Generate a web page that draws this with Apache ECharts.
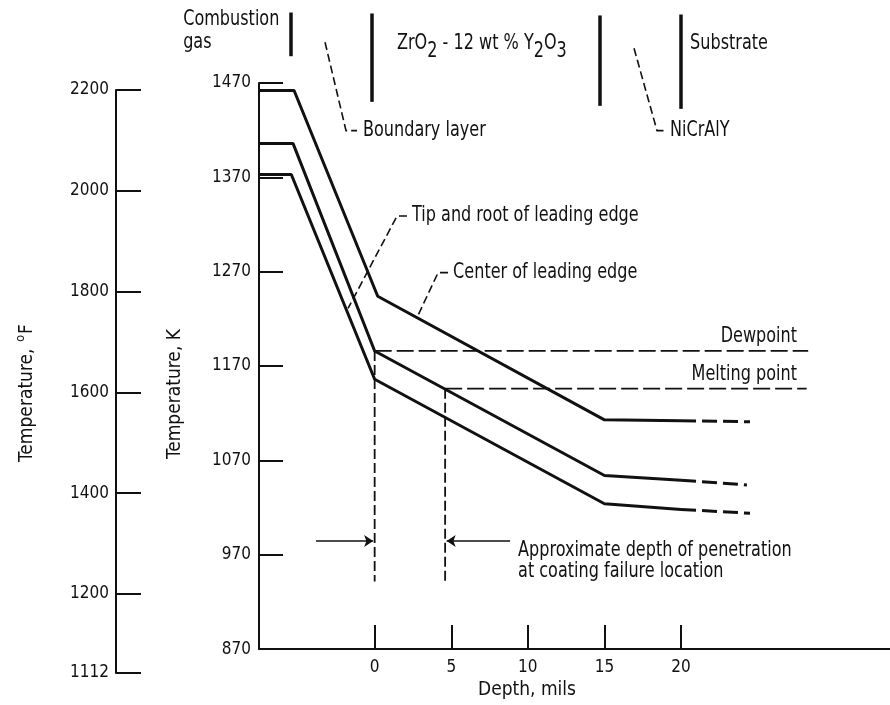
<!DOCTYPE html>
<html>
<head>
<meta charset="utf-8">
<script src="https://cdn.jsdelivr.net/npm/echarts@6/dist/echarts.min.js"></script>
<style>html,body{margin:0;padding:0;background:#fff}#c{width:890px;height:705px}</style>
</head>
<body>
<div id="c"></div>
<script>
// ---------------- data ----------------
const depthTicks = [0, 5, 10, 15, 20];                         // mils
const kelvinTicks = [870, 970, 1070, 1170, 1270, 1370, 1470];  // K
const fahrenheitTicks = [1200, 1400, 1600, 1800, 2000, 2200];  // deg F
const fahrenheitBottomLabel = 1112;                            // broken-scale bottom label

// temperature profiles (depth in mils, negative = gas side / boundary layer; temperature in K)
const centerDepth    = [-7.55, -5.26, 0.2, 15, 20];
const centerTemp     = [1462, 1462, 1244, 1113, 1112];
const centerExtDepth = [20, 24.5];
const centerExtTemp  = [1112, 1111];

const tipRootDepth    = [-7.55, -5.33, 0, 15, 20];
const tipRootTemp     = [1406, 1406, 1186, 1054, 1049];
const tipRootExtDepth = [20, 24.3];
const tipRootExtTemp  = [1049, 1044];

const lowerDepth    = [-7.55, -5.44, 0, 15, 20];
const lowerTemp     = [1373, 1373, 1156, 1024, 1018];
const lowerExtDepth = [20, 24.5];
const lowerExtTemp  = [1018, 1014];

const dewpointK = 1186;
const meltingK = 1146;
const penetrationDepths = [0, 4.6];
const layerBoundaries = [-5.45, -0.17, 14.7, 20.0];

// ---------------- chart ----------------
const FONT = '"DejaVu Sans Condensed", "Liberation Sans Narrow", sans-serif';
const INK = '#111';
const X_MIN = -7.55, X_MAX = 33.64;
const K_MIN = 870, K_MAX = 1470;
const F_MAX = 2200, F_AXIS_FLOOR = 1043;
const NARROW = 0.85;
const zip = (xs, ys) => xs.map((x, i) => [x, ys[i]]);

const chart = echarts.init(document.getElementById('c'), null, {renderer: 'canvas'});

const tickLabel = {color: INK, fontFamily: FONT, fontSize: 17};
const nameStyle = {color: INK, fontFamily: FONT, fontSize: 19};

function curve(data, dashed) {
  return {
    type: 'line', xAxisIndex: 0, yAxisIndex: 0, data: data, symbol: 'none', silent: true,
    lineStyle: {color: INK, width: 3, type: dashed ? [15, 6] : 'solid', cap: 'butt'}
  };
}
function segLine(data, width, dash) {
  return {
    type: 'line', xAxisIndex: 0, yAxisIndex: 0, data: data, symbol: 'none', silent: true, clip: false,
    lineStyle: {color: INK, width: width, type: dash || 'solid'}
  };
}

const layerBarSpan = [[1544.7, 1498.4], [1543.7, 1450], [1541.6, 1445.8], [1542.6, 1442.6]];
const dewEnd = 28.3, meltEnd = 28.2, penBottom = 941.6;

const option = {
  animation: false,
  backgroundColor: '#fff',
  grid: [
    {left: 259, top: 83, width: 631, height: 570},
    {left: 116, top: 90, width: 20, height: 583}
  ],
  xAxis: [
    {
      gridIndex: 0, type: 'value', min: X_MIN, max: X_MAX,
      axisLine: {show: true, onZero: false, lineStyle: {color: INK, width: 2}},
      axisTick: {show: true, inside: true, length: 24, customValues: depthTicks, lineStyle: {color: INK, width: 2}},
      axisLabel: Object.assign({customValues: depthTicks, margin: 10, formatter: v => String(v)}, tickLabel),
      splitLine: {show: false},
      name: 'Depth, mils', nameLocation: 'middle', nameGap: 30,
      nameTextStyle: Object.assign({padding: [0, 95, 0, 0]}, nameStyle)
    },
    {gridIndex: 1, type: 'value', show: false, min: 0, max: 1}
  ],
  yAxis: [
    {
      gridIndex: 0, type: 'value', min: K_MIN, max: K_MAX,
      axisLine: {show: true, onZero: false, lineStyle: {color: INK, width: 2}},
      axisTick: {show: true, inside: true, length: 24, customValues: kelvinTicks, lineStyle: {color: INK, width: 2}},
      axisLabel: Object.assign({customValues: kelvinTicks, margin: 8, formatter: v => String(v)}, tickLabel),
      splitLine: {show: false},
      name: 'Temperature, K', nameLocation: 'middle', nameGap: 74,
      nameTextStyle: Object.assign({padding: [0, 56, 0, 0]}, nameStyle)
    },
    {
      gridIndex: 1, type: 'value', min: F_AXIS_FLOOR, max: F_MAX,
      axisLine: {show: true, onZero: false, lineStyle: {color: INK, width: 2}},
      axisTick: {show: true, inside: true, length: 25, customValues: [F_AXIS_FLOOR].concat(fahrenheitTicks), lineStyle: {color: INK, width: 2}},
      axisLabel: Object.assign({
        customValues: [F_AXIS_FLOOR].concat(fahrenheitTicks), margin: 7,
        formatter: v => (v < fahrenheitTicks[0] ? String(fahrenheitBottomLabel) : String(v))
      }, tickLabel),
      splitLine: {show: false},
      name: '{a|Temperature, }{s|o}{a|F}', nameLocation: 'middle', nameGap: 76,
      nameTextStyle: Object.assign({
        padding: [0, 23, 0, 0],
        rich: {
          a: {fontFamily: FONT, fontSize: 19, color: INK},
          s: {fontFamily: FONT, fontSize: 13, color: INK, padding: [0, 1, 13, 1]}
        }
      }, nameStyle)
    }
  ],
  series: [
    curve(zip(centerDepth, centerTemp), false),
    curve(zip(centerExtDepth, centerExtTemp), true),
    curve(zip(tipRootDepth, tipRootTemp), false),
    curve(zip(tipRootExtDepth, tipRootExtTemp), true),
    curve(zip(lowerDepth, lowerTemp), false),
    curve(zip(lowerExtDepth, lowerExtTemp), true),
    // dewpoint & melting point
    segLine([[0, dewpointK], [dewEnd, dewpointK]], 1.8, [17, 5]),
    segLine([[penetrationDepths[1], meltingK], [meltEnd, meltingK]], 1.8, [17, 5]),
    // penetration verticals
    segLine([[penetrationDepths[0], dewpointK], [penetrationDepths[0], penBottom]], 1.8, [10, 4]),
    segLine([[penetrationDepths[1], meltingK], [penetrationDepths[1], penBottom]], 1.8, [10, 4]),
    // layer boundary bars
    {
      type: 'lines', coordinateSystem: 'cartesian2d', xAxisIndex: 0, yAxisIndex: 0, silent: true, clip: false,
      lineStyle: {color: INK, width: 3.5, opacity: 1},
      data: layerBoundaries.map((d, i) => ({coords: [[d, layerBarSpan[i][0]], [d, layerBarSpan[i][1]]]}))
    },
    // leader lines
    {
      type: 'lines', coordinateSystem: 'cartesian2d', xAxisIndex: 0, yAxisIndex: 0, silent: true, clip: false,
      polyline: true,
      lineStyle: {color: INK, width: 1.6, type: [8, 4], opacity: 1},
      data: [
        {coords: [[-3.24, 1513.2], [-1.87, 1419.5], [-1.15, 1419.5]]},
        {coords: [[16.93, 1506.8], [18.43, 1419.5], [19.02, 1419.5]]},
        {coords: [[2.11, 1329], [1.46, 1329], [-1.74, 1231]]},
        {coords: [[4.79, 1269], [4.14, 1269], [2.83, 1223.7]]}
      ]
    },
    // penetration arrows
    {
      type: 'lines', coordinateSystem: 'cartesian2d', xAxisIndex: 0, yAxisIndex: 0, silent: true, clip: false,
      symbol: ['none', 'arrow'], symbolSize: 9,
      lineStyle: {color: INK, width: 1.6, opacity: 1},
      data: [
        {coords: [[-3.83, 984.7], [penetrationDepths[0] - 0.1, 984.7]]},
        {coords: [[8.84, 984.7], [penetrationDepths[1] + 0.1, 984.7]]}
      ]
    }
  ]
};
chart.setOption(option);

// annotation texts anchored in data coordinates
const subRich = {
  m: {fontFamily: FONT, fontSize: 21, color: INK, lineHeight: 22},
  b: {fontFamily: FONT, fontSize: 21, color: INK, lineHeight: 22, padding: [16, 0, 0, 0]}
};
const notes = [
  {d: -12.5, k: 1525.3, text: 'Combustion\ngas', lh: 23},
  {d: 1.46, k: 1512, text: '{m|ZrO}{b|2}{m| - 12 wt % Y}{b|2}{m|O}{b|3}', rich: subRich},
  {d: 20.59, k: 1512, text: 'Substrate'},
  {d: -0.76, k: 1419.5, text: 'Boundary layer'},
  {d: 19.28, k: 1419.5, text: 'NiCrAlY'},
  {d: 2.44, k: 1329, text: 'Tip and root of leading edge'},
  {d: 5.12, k: 1269, text: 'Center of leading edge'},
  {d: 27.57, k: 1201.6, text: 'Dewpoint', align: 'right'},
  {d: 27.57, k: 1160.5, text: 'Melting point', align: 'right'},
  {d: 9.36, k: 963.7, text: 'Approximate depth of penetration\nat coating failure location', lh: 21}
];
chart.setOption({
  graphic: notes.map(n => {
    const p = chart.convertToPixel({gridIndex: 0}, [n.d, n.k]);
    const style = {
      text: n.text, fill: INK, fontFamily: FONT, fontSize: 21,
      align: n.align || 'left', verticalAlign: 'middle'
    };
    if (n.lh) style.lineHeight = n.lh;
    if (n.rich) style.rich = n.rich;
    return {type: 'text', x: p[0], y: p[1], scaleX: NARROW, silent: true, style: style};
  })
});
</script>
</body>
</html>
